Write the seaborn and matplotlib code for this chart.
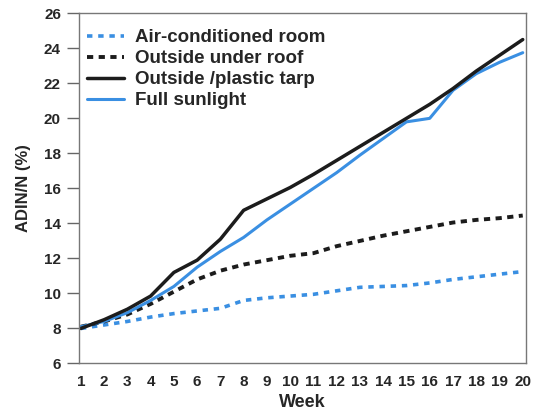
import matplotlib
matplotlib.use("Agg")
import matplotlib.pyplot as plt
import seaborn as sns
import pandas as pd

weeks = list(range(1, 21))
air_conditioned = [8.0, 8.2, 8.4, 8.65, 8.85, 9.0, 9.15, 9.6, 9.75, 9.85,
                   9.95, 10.15, 10.35, 10.4, 10.45, 10.6, 10.8, 10.95, 11.1, 11.25]
under_roof = [8.1, 8.4, 8.8, 9.4, 10.1, 10.8, 11.3, 11.65, 11.9, 12.15,
              12.3, 12.7, 13.0, 13.3, 13.55, 13.8, 14.05, 14.2, 14.3, 14.45]
plastic_tarp = [8.0, 8.5, 9.1, 9.85, 11.2, 11.9, 13.1, 14.75, 15.4, 16.05,
                16.8, 17.6, 18.4, 19.2, 20.0, 20.8, 21.7, 22.7, 23.6, 24.5]
full_sunlight = [8.1, 8.4, 8.9, 9.6, 10.4, 11.5, 12.4, 13.2, 14.2, 15.1,
                 16.0, 16.9, 17.9, 18.85, 19.8, 20.0, 21.6, 22.55, 23.2, 23.75]
labels = ["Air-conditioned room", "Outside under roof", "Outside /plastic tarp", "Full sunlight"]
y_ticks = list(range(6, 27, 2))

sns.set_theme(style="white")
plt.rcParams['font.family'] = ['Liberation Sans', 'DejaVu Sans']
plt.rcParams['font.weight'] = 'bold'

BLUE = "#3a8fe2"
BLACK = "#1c1c1c"
TXT = "#262626"

fig = plt.figure(figsize=(5.38, 4.13), dpi=100)
ax = fig.add_axes([0.1468, 0.1199, 0.8309, 0.8479])

df_air = pd.DataFrame({"Week": weeks, "v": air_conditioned})
df_roof = pd.DataFrame({"Week": weeks, "v": under_roof})
df_tarp = pd.DataFrame({"Week": weeks, "v": plastic_tarp})
df_sun = pd.DataFrame({"Week": weeks, "v": full_sunlight})

sns.lineplot(data=df_air, x="Week", y="v", ax=ax, color=BLUE, linewidth=2.6,
             linestyle=(0, (1.5, 1.6)), dash_capstyle='butt', label=labels[0])
sns.lineplot(data=df_roof, x="Week", y="v", ax=ax, color=BLACK, linewidth=2.8,
             linestyle=(0, (1.6, 1.4)), dash_capstyle='butt', label=labels[1])
sns.lineplot(data=df_sun, x="Week", y="v", ax=ax, color=BLUE, linewidth=2.2,
             label=labels[3])
sns.lineplot(data=df_tarp, x="Week", y="v", ax=ax, color=BLACK, linewidth=2.5,
             label=labels[2])

ax.set_xlim(0.92, 20.14)
ax.set_ylim(6, 26)
ax.set_xticks(weeks)
ax.set_yticks(y_ticks)
ax.tick_params(axis='y', direction='out', length=9, width=1, color="#666666",
               labelsize=11, labelcolor=TXT, pad=4, left=True)
ax.tick_params(axis='x', length=0, labelsize=11, labelcolor=TXT, pad=8)
for lab in ax.get_xticklabels() + ax.get_yticklabels():
    lab.set_fontweight('bold')
for s in ax.spines.values():
    s.set_color("#777777")
    s.set_linewidth(1.0)

ax.set_xlabel("Week", fontsize=13, fontweight='bold', color=TXT, labelpad=4)
ax.set_ylabel("ADIN/N (%)", fontsize=12, fontweight='bold', color=TXT, labelpad=9)

handles, labs = ax.get_legend_handles_labels()
order = [labs.index(l) for l in labels]
leg = ax.legend([handles[i] for i in order], [labs[i] for i in order],
                loc='upper left', bbox_to_anchor=(0.018, 0.955), frameon=False,
                fontsize=13.5, handlelength=1.95, handletextpad=0.6,
                labelspacing=0.21, borderaxespad=0.0, borderpad=0.0)
for t in leg.get_texts():
    t.set_fontweight('bold')
    t.set_color(TXT)

fig.savefig("out.png", dpi=100)
